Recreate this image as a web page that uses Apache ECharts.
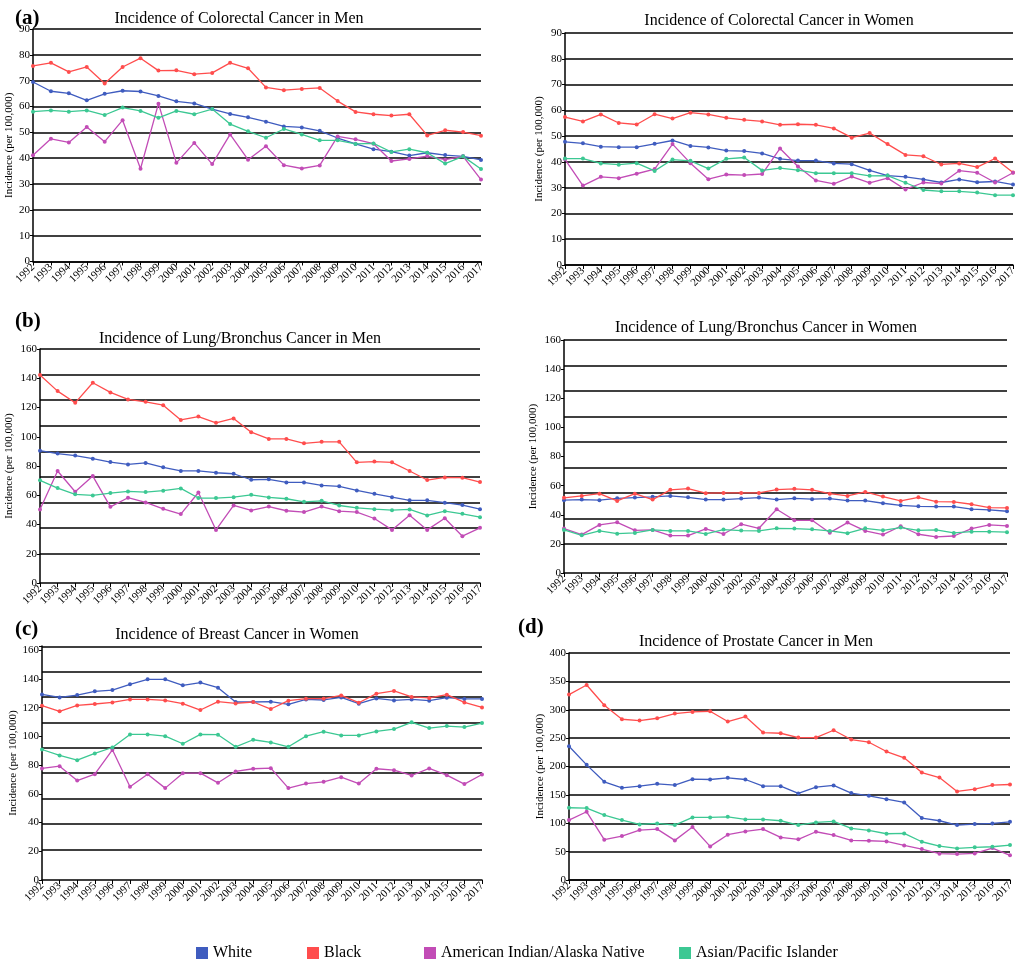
<!DOCTYPE html>
<html>
<head>
<meta charset="utf-8">
<title>Cancer incidence by race</title>
<script src="https://cdn.jsdelivr.net/npm/echarts@6/dist/echarts.min.js"></script>
<style>
  html, body { margin: 0; padding: 0; background: #fff; }
  #main { width: 1020px; height: 960px; }
</style>
</head>
<body>
<div id="main"></div>
<script>
// years on every x axis
var years = ['1992','1993','1994','1995','1996','1997','1998','1999','2000','2001','2002','2003','2004',
             '2005','2006','2007','2008','2009','2010','2011','2012','2013','2014','2015','2016','2017'];
var races = ['White', 'Black', 'American Indian/Alaska Native', 'Asian/Pacific Islander'];

// (a) colorectal, men
var crcMenWhite = [69.5,65.9,65.1,62.4,64.9,66.1,65.8,64.1,62.0,61.2,59.0,57.1,55.8,54.1,52.3,51.9,50.6,47.8,45.5,43.5,42.5,41.0,42.1,41.2,40.7,39.3];
var crcMenBlack = [75.7,76.9,73.4,75.3,68.9,75.3,78.7,73.9,74.0,72.5,73.0,76.9,74.8,67.4,66.3,66.8,67.2,62.1,57.9,57.0,56.5,57.0,48.8,50.8,50.1,48.7];
var crcMenAian  = [41.1,47.5,46.1,52.1,46.4,54.7,35.9,61.1,38.2,45.9,37.7,49.2,39.4,44.6,37.3,36.0,37.2,48.4,47.3,45.6,38.9,39.7,40.8,39.4,40.7,31.7];
var crcMenApi   = [58.0,58.5,58.0,58.5,56.7,59.6,58.3,55.6,58.3,57.0,59.0,53.2,50.4,47.9,51.3,49.2,46.9,46.9,45.5,45.7,42.4,43.5,42.1,37.9,40.7,35.8];

// (a) colorectal, women
var crcWomenWhite = [47.8,47.2,45.9,45.7,45.7,47.0,48.3,46.2,45.6,44.4,44.2,43.3,41.2,40.5,40.5,39.4,39.1,36.7,34.7,34.2,33.2,32.0,33.2,32.1,32.4,31.2];
var crcWomenBlack = [57.4,55.7,58.4,55.1,54.5,58.5,56.8,59.1,58.4,57.1,56.3,55.7,54.4,54.6,54.4,53.0,49.4,51.2,46.9,42.7,42.2,39.0,39.4,38.0,41.3,35.9];
var crcWomenAian  = [41.0,30.8,34.2,33.7,35.4,37.2,46.9,39.5,33.3,35.1,34.9,35.3,45.2,38.2,32.8,31.5,34.3,31.9,33.7,29.3,32.0,31.6,36.6,35.8,32.0,35.8];
var crcWomenApi   = [41.3,41.3,39.4,38.9,39.5,36.5,40.9,40.4,37.4,41.2,41.7,36.7,37.6,36.8,35.6,35.6,35.6,34.6,34.7,31.9,29.1,28.6,28.6,28.1,27.1,27.1];

// (b) lung/bronchus, men
var lungMenWhite = [90.5,88.5,87.1,85.0,82.7,81.1,82.1,79.1,76.6,76.6,75.4,74.7,70.6,70.9,68.8,68.8,66.7,66.1,63.3,61.0,58.7,56.5,56.5,54.9,53.3,50.5];
var lungMenBlack = [142.2,131.2,123.2,136.9,130.3,125.5,123.9,121.6,111.5,113.8,109.5,112.5,103.1,98.5,98.5,95.5,96.5,96.5,82.5,83.0,82.5,76.6,70.4,72.2,72.0,69.0];
var lungMenAian  = [50.3,76.6,62.4,73.1,52.1,58.3,55.1,50.7,47.1,61.9,36.3,53.0,49.6,52.3,49.4,48.5,52.3,49.1,48.5,44.1,36.3,46.4,36.3,44.3,32.0,37.7];
var lungMenApi   = [70.2,64.9,60.6,59.9,61.5,62.6,62.2,63.1,64.7,58.1,58.1,58.7,60.3,58.5,57.6,55.5,56.2,53.0,51.4,50.5,49.8,50.3,46.2,49.1,47.3,45.0];

// (b) lung/bronchus, women
var lungWomenWhite = [50.0,50.4,50.0,51.3,51.8,52.3,52.9,52.0,50.4,50.4,51.1,51.8,50.4,51.3,50.7,51.1,49.7,49.7,47.9,46.5,45.8,45.6,45.6,43.8,43.3,42.4];
var lungWomenBlack = [51.6,52.9,54.5,49.5,54.5,50.4,57.1,58.0,54.8,55.0,55.0,55.0,57.3,57.8,57.1,54.5,52.9,55.7,52.5,49.5,52.0,49.0,48.8,47.2,44.9,44.7];
var lungWomenAian  = [30.5,26.4,33.0,34.8,29.3,29.6,25.7,25.7,30.3,26.8,33.5,30.7,43.8,36.2,36.2,27.7,34.6,28.9,26.4,32.1,26.6,24.8,25.4,30.5,33.0,32.3];
var lungWomenApi   = [29.6,25.9,28.9,27.0,27.5,29.6,28.9,28.9,26.8,29.8,29.1,28.9,30.7,30.5,30.0,28.9,27.3,30.7,29.3,31.2,29.3,29.6,27.5,28.4,28.4,28.0];

// (c) breast, women
var breastWhite = [129.3,127.2,128.8,131.4,132.3,136.3,139.8,139.8,135.6,137.5,134.0,124.0,124.0,124.2,122.4,125.8,125.4,127.2,122.8,126.5,125.1,125.8,124.9,127.0,126.1,126.1];
var breastBlack = [121.4,117.5,121.6,122.6,123.7,125.8,125.8,125.1,122.8,118.4,124.2,123.0,124.0,119.1,124.9,126.3,126.3,128.6,123.5,129.8,131.7,127.5,126.8,129.1,123.7,120.2];
var breastAian  = [77.7,79.3,69.3,73.7,90.7,64.9,73.7,64.0,74.4,74.4,67.7,75.6,77.5,77.9,64.0,67.2,68.4,71.6,67.2,77.5,76.5,72.8,77.7,73.0,66.8,73.5];
var breastApi   = [90.9,86.8,83.5,88.2,92.3,101.4,101.4,100.2,94.9,101.4,101.2,92.8,97.7,95.8,92.8,100.2,103.3,100.7,100.7,103.5,105.1,109.8,105.8,107.2,106.5,109.3];

// (d) prostate, men
var prostateWhite = [235.8,202.9,173.0,162.5,165.4,169.5,167.2,177.7,177.1,180.1,177.1,165.4,165.4,152.5,163.6,166.6,153.1,148.4,142.5,136.7,109.1,104.4,96.8,98.5,99.7,102.6];
var prostateBlack = [326.7,343.7,307.9,283.3,280.9,285.0,293.3,296.2,297.4,279.2,288.0,259.8,258.6,251.0,251.0,263.9,247.5,242.8,226.4,215.2,189.4,180.6,156.0,160.1,167.2,168.3];
var prostateAian  = [105.6,120.2,71.0,77.4,88.0,89.7,69.8,93.3,59.2,79.8,85.6,89.7,75.1,71.6,85.0,79.2,69.8,69.2,68.0,61.0,54.5,46.3,45.7,46.9,56.3,43.4];
var prostateApi   = [127.3,126.7,114.4,105.6,97.9,99.7,96.8,110.3,110.3,111.4,106.7,106.7,104.4,96.8,101.5,103.2,90.9,87.4,81.5,82.1,67.4,59.8,55.7,57.5,58.6,61.6];

// horizontal rules of panels (b) and (c) do not sit on the tick values in the original
var rulesB = [20, 37.5, 55, 72.5, 90, 107.5, 125, 142.5, 160];
var rulesC = [21.4, 39.1, 56.8, 74.4, 92.1, 109.8, 127.5, 145.1, 162.8];

var colors = ['#3f5cbf', '#ff4d4d', '#c24cb6', '#3cc893'];
var serif = 'Liberation Serif';

var panels = [
    { title: 'Incidence of Colorectal Cancer in Men', tx: 234, ty: 6, grid: {left: 33, top: 29, width: 448, height: 232.5},
      max: 90, interval: 10, gap: 18, data: [crcMenWhite, crcMenBlack, crcMenAian, crcMenApi] },
    { title: 'Incidence of Colorectal Cancer in Women', tx: 774, ty: 8, grid: {left: 565, top: 33, width: 448, height: 232},
      max: 90, interval: 10, gap: 20, data: [crcWomenWhite, crcWomenBlack, crcWomenAian, crcWomenApi] },
    { title: 'Incidence of Lung/Bronchus Cancer in Men', tx: 235, ty: 326, grid: {left: 40, top: 349, width: 440, height: 234},
      max: 160, interval: 20, gap: 25, rules: rulesB, data: [lungMenWhite, lungMenBlack, lungMenAian, lungMenApi] },
    { title: 'Incidence of Lung/Bronchus Cancer in Women', tx: 761, ty: 315, grid: {left: 564, top: 340, width: 443, height: 233},
      max: 160, interval: 20, gap: 25, rules: rulesB, data: [lungWomenWhite, lungWomenBlack, lungWomenAian, lungWomenApi] },
    { title: 'Incidence of Breast Cancer in Women', tx: 232, ty: 622, grid: {left: 42, top: 646, width: 440, height: 234},
      max: 163, interval: 20, gap: 23, rules: rulesC, data: [breastWhite, breastBlack, breastAian, breastApi] },
    { title: 'Incidence of Prostate Cancer in Men', tx: 751, ty: 629, grid: {left: 569, top: 653, width: 441, height: 227},
      max: 400, interval: 50, gap: 23, data: [prostateWhite, prostateBlack, prostateAian, prostateApi] }
];

var titles = [], grids = [], xAxes = [], yAxes = [], series = [];

panels.forEach(function (p, i) {
    titles.push({
        text: p.title, left: p.tx, top: p.ty, textAlign: 'center',
        textStyle: { fontFamily: serif, fontSize: 16, fontWeight: 'normal', color: '#000' }
    });
    grids.push(p.grid);
    xAxes.push({
        type: 'category', gridIndex: i, data: years, boundaryGap: false,
        axisLine: { lineStyle: { color: '#000', width: 1.5 } },
        axisTick: { show: true, interval: 0, length: 4, lineStyle: { color: '#000' } },
        axisLabel: { interval: 0, rotate: 45, margin: 4, fontFamily: serif, fontSize: 11, color: '#000' }
    });
    yAxes.push({
        type: 'value', gridIndex: i, min: 0, max: p.max, interval: p.interval,
        name: 'Incidence (per 100,000)', nameLocation: 'middle', nameGap: p.gap,
        nameTextStyle: { fontFamily: serif, fontSize: 11, color: '#000' },
        axisLine: { show: true, lineStyle: { color: '#000', width: 1.5 } },
        axisTick: { show: true, length: 3, lineStyle: { color: '#000' } },
        axisLabel: {
            margin: 3, fontFamily: serif, fontSize: 11, color: '#000',
            formatter: function (v) { return v % p.interval === 0 ? v : ''; }
        },
        splitLine: { show: !p.rules, lineStyle: { color: '#000', width: 1.5 } }
    });
    p.data.forEach(function (vals, k) {
        var s = {
            name: races[k], type: 'line', xAxisIndex: i, yAxisIndex: i, data: vals,
            symbol: 'circle', symbolSize: 4, smooth: false,
            lineStyle: { color: colors[k], width: 1.3 },
            itemStyle: { color: colors[k] },
            emphasis: { disabled: true }
        };
        if (k === 0 && p.rules) {
            s.markLine = {
                z: 1, silent: true, symbol: 'none', animation: false,
                label: { show: false },
                lineStyle: { color: '#000', width: 1.5, type: 'solid' },
                data: p.rules.map(function (v) { return { yAxis: v }; })
            };
        }
        series.push(s);
    });
});

// panel letters
[['(a)', 10, 3], ['(b)', 10, 306], ['(c)', 10, 614], ['(d)', 513, 612]].forEach(function (t) {
    titles.push({
        text: t[0], left: t[1], top: t[2],
        textStyle: { fontFamily: serif, fontSize: 21, fontWeight: 'bold', color: '#000' }
    });
});

var legendLeft = [191, 302, 419, 674];
var legends = races.map(function (r, k) {
    return {
        data: [r], left: legendLeft[k], top: 940, icon: 'rect', itemWidth: 12, itemHeight: 12,
        selectedMode: false,
        textStyle: { fontFamily: serif, fontSize: 16, color: '#000' }
    };
});

var chart = echarts.init(document.getElementById('main'));
chart.setOption({
    animation: false,
    backgroundColor: '#fff',
    color: colors,
    title: titles,
    legend: legends,
    grid: grids,
    xAxis: xAxes,
    yAxis: yAxes,
    series: series
});
</script>
</body>
</html>
